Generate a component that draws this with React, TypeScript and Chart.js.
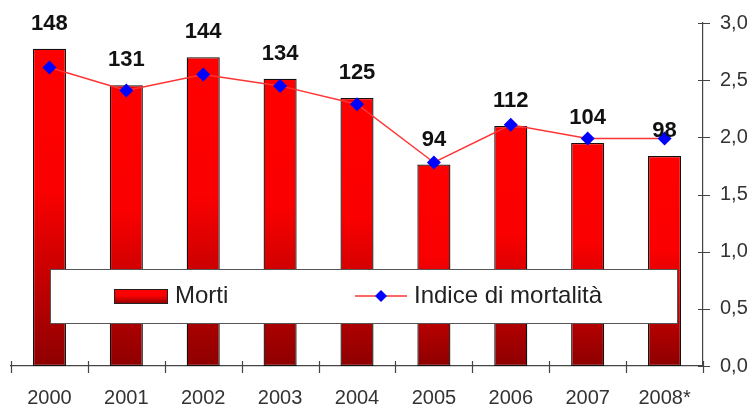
import React, { useEffect, useRef } from "react";
import { Chart, registerables } from "chart.js";

Chart.register(...registerables);

const categories = ["2000", "2001", "2002", "2003", "2004", "2005", "2006", "2007", "2008*"];
const morti = [148, 131, 144, 134, 125, 94, 112, 104, 98];
const indice = [2.61, 2.41, 2.55, 2.45, 2.29, 1.78, 2.11, 1.99, 1.99];
const rightTicks = [0, 0.5, 1, 1.5, 2, 2.5, 3];
const legendLabels = ["Morti", "Indice di mortalità"];

const FONT = "'Liberation Sans', Arial, sans-serif";

function barGradient(ctx: CanvasRenderingContext2D, top: number, bottom: number) {
  const g = ctx.createLinearGradient(0, top, 0, bottom);
  g.addColorStop(0, "#ff0000");
  g.addColorStop(0.45, "#fa0000");
  g.addColorStop(1, "#8e0000");
  return g;
}

const overlayPlugin = {
  id: "overlay",
  afterDatasetsDraw(chart: any) {
    const ctx = chart.ctx as CanvasRenderingContext2D;
    const x = chart.scales.x;
    const y = chart.scales.y;
    const y1 = chart.scales.y1;
    const area = chart.chartArea;
    ctx.save();
    // axis ticks crossing
    ctx.strokeStyle = "#444";
    ctx.lineWidth = 1.2;
    ctx.beginPath();
    for (let i = 0; i <= categories.length; i++) {
      const px = Math.round(area.left + (i * (area.right - area.left)) / categories.length) + 0.5;
      ctx.moveTo(px, area.bottom - 5);
      ctx.lineTo(px, area.bottom + 7);
    }
    rightTicks.forEach((v) => {
      const py = Math.round(y1.getPixelForValue(v)) + 0.5;
      ctx.moveTo(area.right - 5, py);
      ctx.lineTo(area.right + 7, py);
    });
    ctx.stroke();

    // legend box
    const lx = 50, ly = 269, lw = 627, lh = 54;
    ctx.fillStyle = "#ffffff";
    ctx.fillRect(lx, ly, lw, lh);
    ctx.strokeStyle = "#555";
    ctx.lineWidth = 1;
    ctx.strokeRect(lx + 0.5, ly + 0.5, lw, lh);
    const cy = 296;
    ctx.fillStyle = barGradient(ctx, 289, 304);
    ctx.fillRect(114, 289, 54, 15);
    ctx.strokeStyle = "#222";
    ctx.strokeRect(114.5, 289.5, 53, 14);
    ctx.fillStyle = "#222";
    ctx.font = `24px ${FONT}`;
    ctx.textBaseline = "middle";
    ctx.textAlign = "left";
    ctx.fillText(legendLabels[0], 175, cy);
    ctx.strokeStyle = "#ff3333";
    ctx.lineWidth = 1.5;
    ctx.beginPath();
    ctx.moveTo(355, cy);
    ctx.lineTo(407, cy);
    ctx.stroke();
    ctx.fillStyle = "#0000ff";
    ctx.beginPath();
    ctx.moveTo(381, cy - 6);
    ctx.lineTo(387, cy);
    ctx.lineTo(381, cy + 6);
    ctx.lineTo(375, cy);
    ctx.closePath();
    ctx.fill();
    ctx.fillStyle = "#222";
    ctx.fillText(legendLabels[1], 414, cy);

    // value labels
    ctx.font = `bold 22px ${FONT}`;
    ctx.fillStyle = "#111";
    ctx.textAlign = "center";
    ctx.textBaseline = "middle";
    morti.forEach((v, i) => {
      const px = x.getPixelForValue(i);
      const py = y.getPixelForValue(v);
      ctx.fillText(String(v), px, py - 25);
    });
    ctx.restore();
  },
};

export default function App() {
  const ref = useRef<HTMLCanvasElement | null>(null);
  useEffect(() => {
    if (!ref.current) return;
    const chart = new Chart(ref.current, {
      type: "bar",
      data: {
        labels: categories,
        datasets: [
          {
            type: "line",
            label: legendLabels[1],
            data: indice,
            yAxisID: "y1",
            borderColor: "#ff3333",
            borderWidth: 1.5,
            pointStyle: "rectRot",
            pointRadius: 7,
            pointBackgroundColor: "#0000ff",
            pointBorderColor: "#0000ff",
            pointBorderWidth: 0,
            tension: 0,
            order: 0,
          } as any,
          {
            type: "bar",
            label: legendLabels[0],
            data: morti,
            yAxisID: "y",
            backgroundColor: (c: any) => {
              const ch = c.chart;
              if (!ch.chartArea || c.dataIndex === undefined) return "#ff0000";
              const ys = ch.scales.y;
              const top = ys.getPixelForValue(morti[c.dataIndex]);
              const bottom = ys.getPixelForValue(0);
              return barGradient(ch.ctx, top, bottom);
            },
            borderColor: "#111",
            borderWidth: 1.3,
            borderSkipped: false,
            barPercentage: 0.43,
            categoryPercentage: 1,
            order: 1,
          } as any,
        ],
      },
      options: {
        animation: false,
        responsive: true,
        maintainAspectRatio: false,
        layout: { padding: { left: 11, top: 23, right: 0, bottom: 0 } },
        plugins: { legend: { display: false }, tooltip: { enabled: false } },
        scales: {
          x: {
            offset: true,
            grid: { display: false, offset: true },
            border: { display: true, color: "#444", width: 1.2 },
            ticks: {
              color: "#333",
              font: { family: FONT, size: 20 },
              padding: 12,
            },
            afterFit: (s: any) => {
              s.height = 42;
            },
          },
          y: {
            display: false,
            min: 0,
            max: 160,
          },
          y1: {
            position: "right",
            min: 0,
            max: 3,
            grid: { display: false },
            border: { display: true, color: "#444", width: 1.2 },
            afterBuildTicks: (s: any) => {
              s.ticks = rightTicks.map((v) => ({ value: v }));
            },
            ticks: {
              color: "#333",
              font: { family: FONT, size: 20 },
              padding: 9,
              callback: (v: any) => Number(v).toFixed(1).replace(".", ","),
            },
            afterFit: (s: any) => {
              s.width = 51;
            },
          },
        },
      },
      plugins: [overlayPlugin],
    });
    return () => chart.destroy();
  }, []);
  return (
    <div style={{ position: "fixed", left: 0, top: 0, width: 754, height: 408, background: "#fff" }}>
      <canvas ref={ref} />
    </div>
  );
}
